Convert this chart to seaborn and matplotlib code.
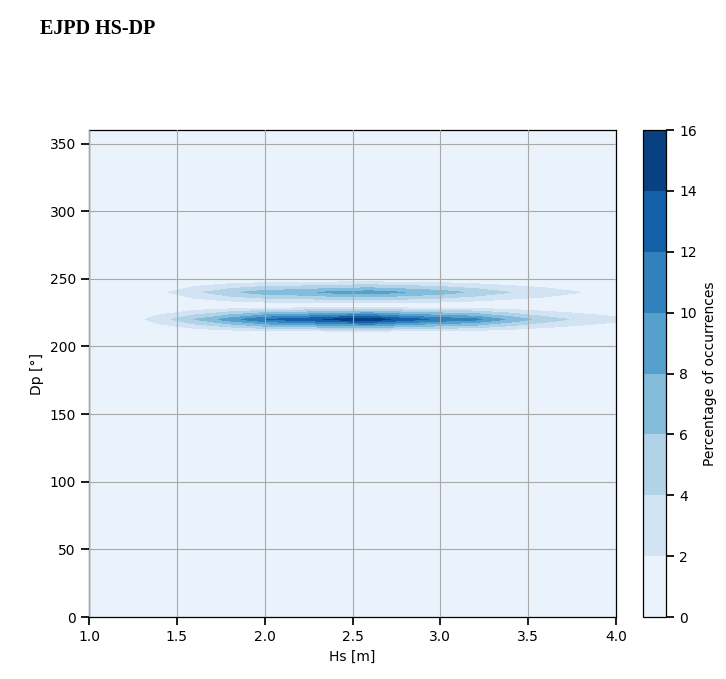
"""
EJPD HS-DP: joint distribution of significant wave height and peak direction
"""

import numpy as np
import matplotlib
matplotlib.use("Agg")
import matplotlib.pyplot as plt
import seaborn as sns

# Grid of Hs (m) and Dp (deg) bins
hs = [1.0, 1.2, 1.4, 1.6, 1.8, 2.0, 2.2, 2.4, 2.6, 2.8, 3.0, 3.2, 3.4, 3.6, 3.8, 4.0]
dp = list(range(0, 370, 10))

# Percentage of occurrences in the two populated direction bins
dp_main = 220
pct_main = [0, 0.5, 3, 6, 9, 12, 13, 14.5, 15.5, 13, 11.5, 10.5, 7.5, 5, 3.5, 2.5]
dp_second = 240
pct_second = [0, 0, 1.5, 3.5, 5.5, 7, 7.5, 8.5, 9, 8, 7, 5.5, 4, 3, 2, 1]

levels = list(range(0, 18, 2))
cbar_ticks = list(range(0, 18, 2))

sns.set_theme(style="ticks")
plt.rcParams.update({
    "font.family": ["DejaVu Sans"],
    "xtick.labelsize": 10,
    "ytick.labelsize": 10,
    "axes.labelsize": 10,
    "axes.edgecolor": "black",
    "axes.linewidth": 0.9,
    "text.color": "black",
    "axes.labelcolor": "black",
    "xtick.color": "black",
    "ytick.color": "black",
})

# build the table of percentages
table = np.zeros((len(dp), len(hs)))
table[dp.index(dp_main), :] = pct_main
table[dp.index(dp_second), :] = pct_second

fig = plt.figure(figsize=(7.26, 6.79), dpi=100)
ax = fig.add_axes([0.1226, 0.0913, 0.7259, 0.7172])
cax = fig.add_axes([0.8857, 0.0913, 0.0317, 0.7172])

cmap = sns.color_palette("Blues", as_cmap=True)
cs = ax.contourf(hs, dp, table, levels=levels, cmap=cmap)

ax.set_xlim(1.0, 4.0)
ax.set_ylim(0, 360)
ax.set_xticks(np.arange(1.0, 4.01, 0.5))
ax.set_yticks(np.arange(0, 351, 50))
ax.set_xlabel("Hs [m]")
ax.set_ylabel("Dp [°]")
ax.set_axisbelow(False)
ax.grid(True, color="#a8a8a8", linewidth=0.8)

cb = fig.colorbar(cs, cax=cax)
cb.set_ticks(cbar_ticks)
cb.set_label("Percentage of occurrences", fontsize=10)
cb.ax.tick_params(labelsize=10)
cb.outline.set_edgecolor("black")

fig.text(0.055, 0.958, "EJPD HS-DP", fontfamily=["Liberation Serif"],
         fontweight="bold", fontsize=14.5, ha="left", va="center")

fig.savefig("out.png", dpi=100)
